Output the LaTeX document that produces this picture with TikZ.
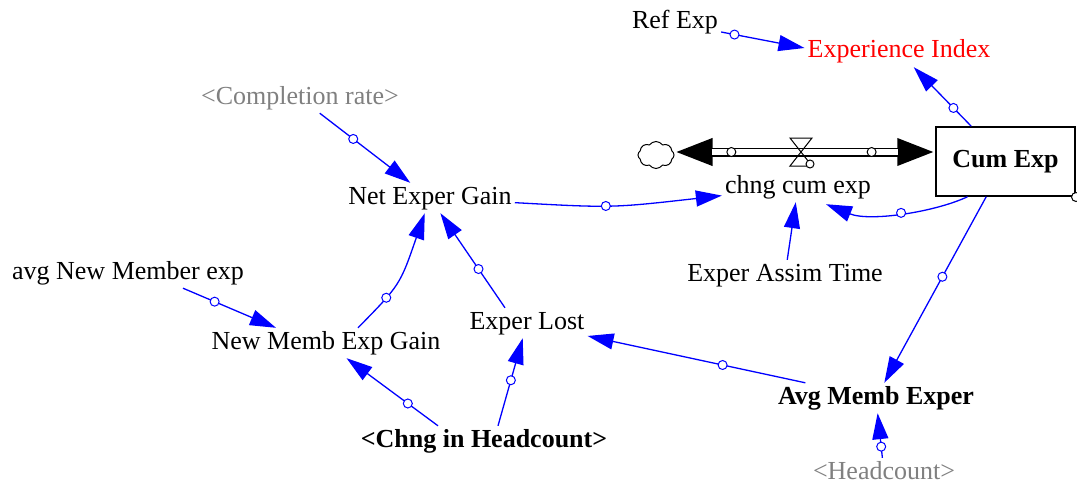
\documentclass[tikz,border=0pt]{standalone}
\usepackage{fontspec}
\setmainfont{Liberation Serif}
\usetikzlibrary{arrows.meta,shapes.symbols}
\definecolor{linkblue}{RGB}{0,0,255}
\definecolor{shadowgray}{RGB}{128,128,128}
\definecolor{idxred}{RGB}{255,0,0}
\begin{document}
\begin{tikzpicture}[x=1pt,y=-1pt,
  var/.style={font=\fontsize{26}{30}\selectfont, inner sep=3pt, text height=18pt, text depth=6pt},
  shadowvar/.style={var, text=shadowgray},
  boldvar/.style={var, font=\fontsize{26}{30}\selectfont\bfseries},
  link/.style={draw=linkblue, line width=1.3pt, -{Triangle[length=26pt,width=16pt]}},
  circ/.style={circle, draw=linkblue, fill=white, line width=1pt, inner sep=0pt, minimum size=9pt},
  pipecirc/.style={circle, draw=black, fill=white, line width=1pt, inner sep=0pt, minimum size=9pt},
  stockbox/.style={draw, line width=1.5pt, minimum width=139pt, minimum height=69pt, inner sep=0pt,
    font=\fontsize{26}{30}\selectfont\bfseries},
  cloudshape/.style={cloud, cloud puffs=8, cloud puff arc=110, aspect=1.3, draw, line width=1pt,
    minimum width=36pt, minimum height=27pt, inner sep=0pt}
]
\useasboundingbox (0,0) rectangle (1077,487);

% nodes
\node[var] (ref) at (675,23) {Ref Exp};
\node[var, text=idxred] (ei) at (899,52) {Experience Index};
\node[shadowvar] (comp) at (300,98) {<Completion rate>};
\node[var] (neg) at (430,198) {Net Exper Gain};
\node[var] (ccx) at (798,187) {chng cum exp};
\node[var] (eat) at (785,275) {Exper Assim Time};
\node[var] (anme) at (128,273) {avg New Member exp};
\node[var] (nmeg) at (326,343) {New Memb Exp Gain};
\node[var] (el) at (527,323) {Exper Lost};
\node[boldvar] (ame) at (876,398) {Avg Memb Exper};
\node[boldvar] (cih) at (484,441) {<Chng in Headcount>};
\node[shadowvar] (hc) at (884,473) {<Headcount>};
\node[stockbox] (stock) at (1005.5,161.5) {Cum Exp};
\node[cloudshape] (cloud) at (656,155) {};
\coordinate (valve) at (801,152);

% flow pipe
\draw[line width=9pt, {Triangle[length=38pt,width=25pt]}-{Triangle[length=38pt,width=25pt]}]
  (cloud.east |- valve) -- (stock.west |- valve);
\draw[white, line width=6.2pt, shorten <=37pt, shorten >=37pt]
  (cloud.east |- valve) -- (stock.west |- valve);
\path (cloud.east |- valve) -- node[pipecirc, pos=0.218] (pc1) {} node[pipecirc, pos=0.756] (pc2) {} (stock.west |- valve);
% valve
\draw[line width=1pt] (valve) ++(-11,-14) -- ++(22,0) -- ++(-22,28) -- ++(22,0) -- cycle;
\node[pipecirc, minimum size=8pt] (vc) at (810,164) {};
\node[circle, draw, fill=white, line width=1pt, inner sep=0pt, minimum size=9pt] (corner) at (1076,197) {};

% links
\draw[link] ([yshift=-9pt]ref.east) -- node[circ, pos=0.16] {} ([yshift=4pt]ei.west);
\draw[link] (stock) -- node[circ, pos=0.31] {} (ei);
\draw[link] (comp) -- node[circ, pos=0.37] {} (neg);
\draw[link] (neg) .. controls (612,208) .. node[circ, pos=0.45] {} (ccx);
\draw[link] ([xshift=-38pt]stock.south) .. controls (935,212) and (870,222) .. node[circ, pos=0.5] {} ([xshift=28pt,yshift=-2pt]ccx.south);
\draw[link] (eat) -- (ccx);
\draw[link] ([xshift=55pt]anme.south) -- node[circ, pos=0.34] {} ([xshift=-50pt]nmeg.north);
\draw[link] ([xshift=32pt]nmeg.north) .. controls (400,285) .. node[circ, pos=0.3] {} (neg);
\draw[link] ([xshift=-22pt]el.north) -- node[circ, pos=0.41] {} (neg);
\draw[link] ([xshift=-46pt]cih.north) -- node[circ, pos=0.33] {} (nmeg);
\draw[link] ([xshift=14pt]cih.north) -- node[circ, pos=0.52] {} (el);
\draw[link] (ame) -- node[circ, pos=0.38] {} (el);
\draw[link] (stock) -- node[circ, pos=0.43] {} (ame);
\draw[link] (hc) -- node[circ, pos=0.25] {} (ame);
\end{tikzpicture}
\end{document}
